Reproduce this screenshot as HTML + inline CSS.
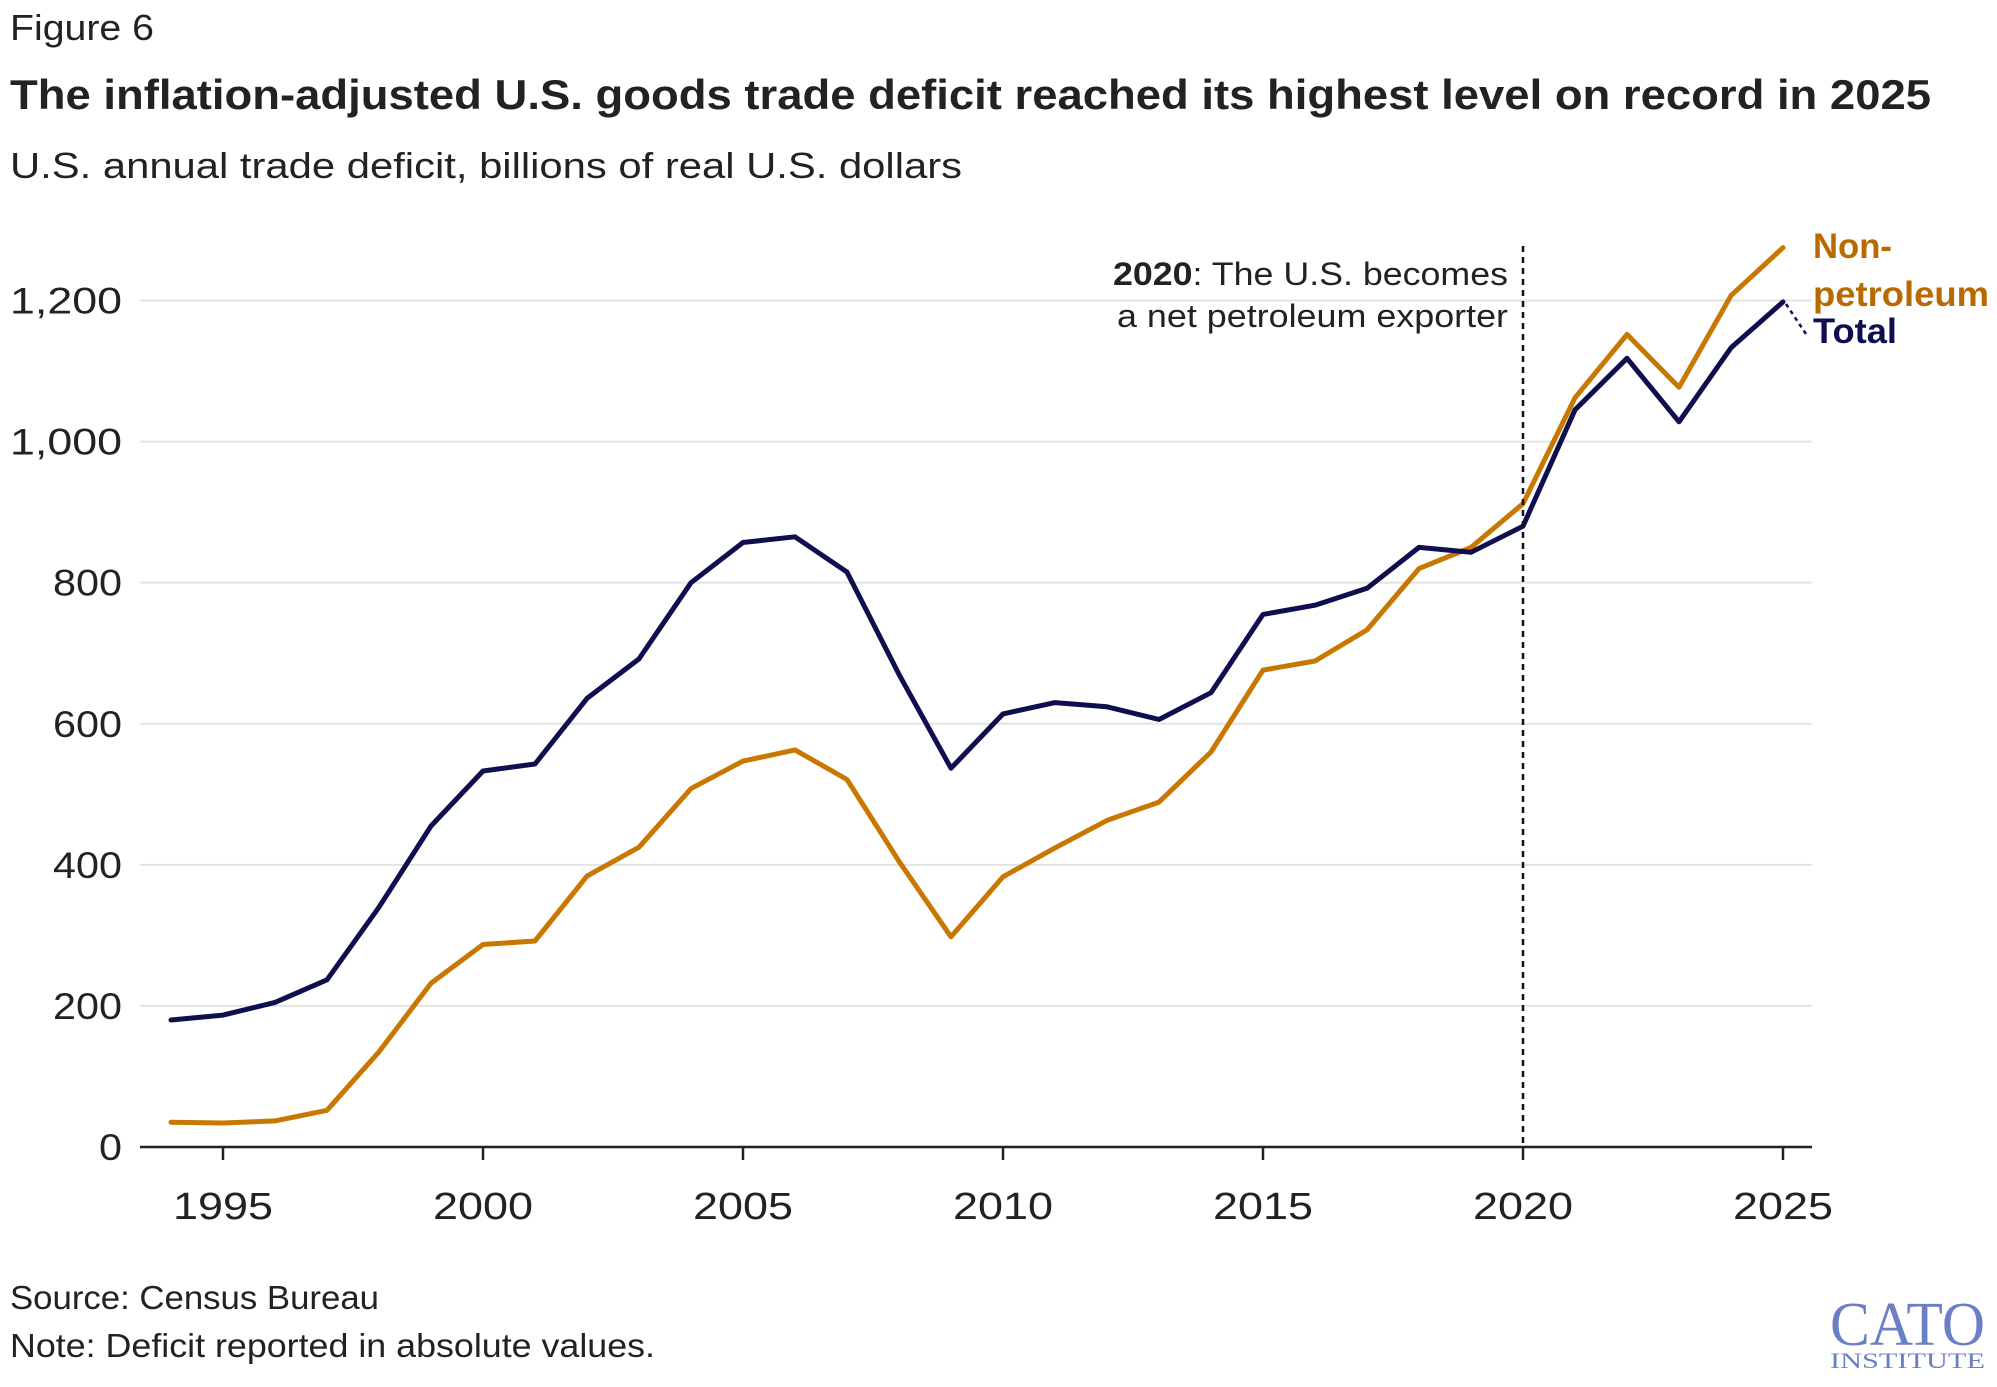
<!DOCTYPE html>
<html><head><meta charset="utf-8">
<style>
html,body{margin:0;padding:0;background:#fff;}
body{width:1997px;height:1382px;overflow:hidden;font-family:"Liberation Sans",sans-serif;color:#222;}
</style></head>
<body>
<svg id="chart" width="1997" height="1382" xmlns="http://www.w3.org/2000/svg">
<text x="10" y="40" font-size="36" fill="#222" textLength="144" lengthAdjust="spacingAndGlyphs">Figure 6</text>
<text x="10" y="109" font-size="42" font-weight="bold" fill="#222" textLength="1921" lengthAdjust="spacingAndGlyphs">The inflation-adjusted U.S. goods trade deficit reached its highest level on record in 2025</text>
<text x="10" y="178" font-size="36" fill="#222" textLength="952" lengthAdjust="spacingAndGlyphs">U.S. annual trade deficit, billions of real U.S. dollars</text>
<g id="grid"></g>
<g id="yticks"></g>
<g id="xticks"></g>
<g id="lines"></g>
<line x1="1523" y1="246" x2="1523" y2="1147" stroke="#111" stroke-width="2.5" stroke-dasharray="6,5"/>
<text x="1508" y="285" font-size="32" text-anchor="end" fill="#222" textLength="395" lengthAdjust="spacingAndGlyphs"><tspan font-weight="bold">2020</tspan>: The U.S. becomes</text>
<text x="1508" y="327" font-size="32" text-anchor="end" fill="#222" textLength="391" lengthAdjust="spacingAndGlyphs">a net petroleum exporter</text>
<text x="1813" y="258" font-size="35" font-weight="bold" fill="#b86a00" textLength="79" lengthAdjust="spacingAndGlyphs">Non-</text>
<text x="1813" y="306" font-size="35" font-weight="bold" fill="#b86a00" textLength="176" lengthAdjust="spacingAndGlyphs">petroleum</text>
<text x="1813" y="343" font-size="35" font-weight="bold" fill="#0f0f4f" textLength="84" lengthAdjust="spacingAndGlyphs">Total</text>
<line x1="1786" y1="304" x2="1806" y2="334" stroke="#0f0f4f" stroke-width="2.5" stroke-dasharray="4,4"/>
<text x="10" y="1309" font-size="33" fill="#222" textLength="369" lengthAdjust="spacingAndGlyphs">Source: Census Bureau</text>
<text x="10" y="1357" font-size="33" fill="#222" textLength="645" lengthAdjust="spacingAndGlyphs">Note: Deficit reported in absolute values.</text>
<text x="1985" y="1345" font-size="62" font-family="Liberation Serif, serif" text-anchor="end" fill="#6b7fc4" textLength="155" lengthAdjust="spacingAndGlyphs">CATO</text>
<text x="1985" y="1368" font-size="22" font-family="Liberation Serif, serif" text-anchor="end" fill="#6b7fc4" textLength="155" lengthAdjust="spacingAndGlyphs">INSTITUTE</text>
</svg>
<script>
const years = [1994,1995,1996,1997,1998,1999,2000,2001,2002,2003,2004,2005,2006,2007,2008,2009,2010,2011,2012,2013,2014,2015,2016,2017,2018,2019,2020,2021,2022,2023,2024,2025];
const totalDeficit = [180,187,205,237,340,455,533,543,636,692,800,857,865,815,670,537,614,630,624,606,644,755,768,792,850,843,880,1045,1118,1028,1133,1198];
const nonPetroleumDeficit = [35,34,37,52,135,232,287,292,384,425,508,547,563,521,405,298,383,424,463,489,560,676,689,733,820,850,912,1062,1152,1077,1207,1275];
const yTicks = [0,200,400,600,800,1000,1200];
const yTickLabels = ["0","200","400","600","800","1,000","1,200"];
const xTicks = [1995,2000,2005,2010,2015,2020,2025];

const NS = "http://www.w3.org/2000/svg";
const xScale = y => 171 + (y - 1994) * (1783 - 171) / 31;
const yScale = v => 1147 - v * (1147 - 300.5) / 1200;
function mk(tag, attrs, parent){const e=document.createElementNS(NS,tag);for(const k in attrs)e.setAttribute(k,attrs[k]);parent.appendChild(e);return e;}

const grid=document.getElementById('grid'), yt=document.getElementById('yticks'), xt=document.getElementById('xticks'), lines=document.getElementById('lines');
yTicks.forEach((v,i)=>{
  if(v>0){
    const g=mk('line',{x1:140,x2:1812,y1:yScale(v),y2:yScale(v),stroke:'#e3e3e3','stroke-width':2},grid);
    
    
  }
  const lab=yTickLabels[i];
  const t=mk('text',{x:122,y:yScale(v)+13,'font-size':37,'text-anchor':'end',fill:'#222',textLength:(lab.length===5?112:lab.length*23),lengthAdjust:'spacingAndGlyphs'},yt);
  t.textContent=lab;
  
  
});
const axis=mk('line',{x1:140,x2:1812,y1:1147,y2:1147,stroke:'#222','stroke-width':2.5},xt);


xTicks.forEach(yr=>{
  const tk=mk('line',{x1:xScale(yr),x2:xScale(yr),y1:1147,y2:1160,stroke:'#222','stroke-width':2.5},xt);
  
  
  const t=mk('text',{x:xScale(yr),y:1219,'font-size':38,'text-anchor':'middle',fill:'#222',textLength:100,lengthAdjust:'spacingAndGlyphs'},xt);
  t.textContent=yr;
  
  
});
function path(vals,color,name){
  const d=vals.map((v,i)=>(i?'L':'M')+xScale(years[i]).toFixed(1)+','+yScale(v).toFixed(1)).join(' ');
  const p=mk('path',{d:d,fill:'none',stroke:color,'stroke-width':5,'stroke-linejoin':'round','stroke-linecap':'round'},lines);
  
  
}
path(nonPetroleumDeficit,'#c87800','non-petroleum-line');
path(totalDeficit,'#0f0f4f','total-line');
</script>
</body></html>
